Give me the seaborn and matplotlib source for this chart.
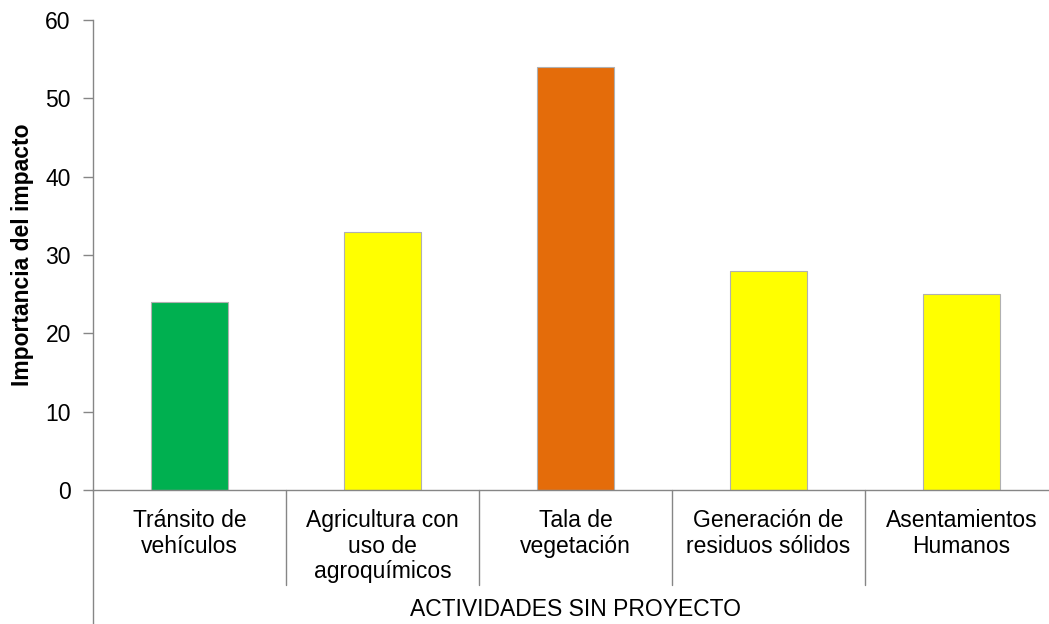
import matplotlib
matplotlib.use("Agg")
import matplotlib.pyplot as plt
import matplotlib.transforms as mtransforms
import seaborn as sns
import pandas as pd

categories = ["Tránsito de\nvehículos", "Agricultura con\nuso de\nagroquímicos",
              "Tala de\nvegetación", "Generación de\nresiduos sólidos",
              "Asentamientos\nHumanos"]
values = [24, 33, 54, 28, 25]
colors = ["#00B050", "#FFFF00", "#E46C0A", "#FFFF00", "#FFFF00"]
y_ticks = [0, 10, 20, 30, 40, 50, 60]
x_title = "ACTIVIDADES SIN PROYECTO"
y_title = "Importancia del impacto"

sns.set_theme(style="white")
plt.rcParams["font.family"] = ["Liberation Sans", "DejaVu Sans"]

df = pd.DataFrame({"cat": categories, "val": values})

W, H = 1049, 624
fig = plt.figure(figsize=(W / 100, H / 100), dpi=100)
left_px, right_px, top_px, bot_px = 93, 1058, 20, 490
ax = fig.add_axes([left_px / W, 1 - bot_px / H, (right_px - left_px) / W, (bot_px - top_px) / H])

sns.barplot(data=df, x="cat", y="val", hue="cat", palette=colors, legend=False,
            saturation=1, width=0.40, edgecolor="#b0b0b0", linewidth=0.8, ax=ax)

ax.set_xlim(-0.5, len(categories) - 0.5)
ax.set_ylim(0, 60)
ax.set_yticks(y_ticks)

grey = "#868686"
for s in ["top", "right"]:
    ax.spines[s].set_visible(False)
for s in ["left", "bottom"]:
    ax.spines[s].set_color(grey)
    ax.spines[s].set_linewidth(1.0)

fs = 16.5
ax.tick_params(axis="y", length=7, width=1.0, color=grey, labelsize=fs, pad=9, left=True,
               labelcolor="#000000")
ax.tick_params(axis="x", length=0, labelsize=fs, pad=14, labelcolor="#000000")
for lbl in ax.get_xticklabels():
    lbl.set_linespacing(1.12)

ax.set_ylabel(y_title, fontsize=fs, fontweight="bold", labelpad=8, color="black")
ax.set_xlabel(x_title, fontsize=fs, labelpad=11, color="black")

# multi-level category axis dividers
plot_h = bot_px - top_px
trans = mtransforms.blended_transform_factory(ax.transData, ax.transAxes)
for i in range(len(categories)):
    xb = i + 0.5
    ax.plot([xb, xb], [0, -95 / plot_h], transform=trans, color=grey, lw=1.0, clip_on=False)
ax.plot([0, 0], [0, -(H - bot_px + 2) / plot_h], transform=ax.transAxes, color=grey,
        lw=1.0, clip_on=False)

fig.savefig("out.png", dpi=100)
